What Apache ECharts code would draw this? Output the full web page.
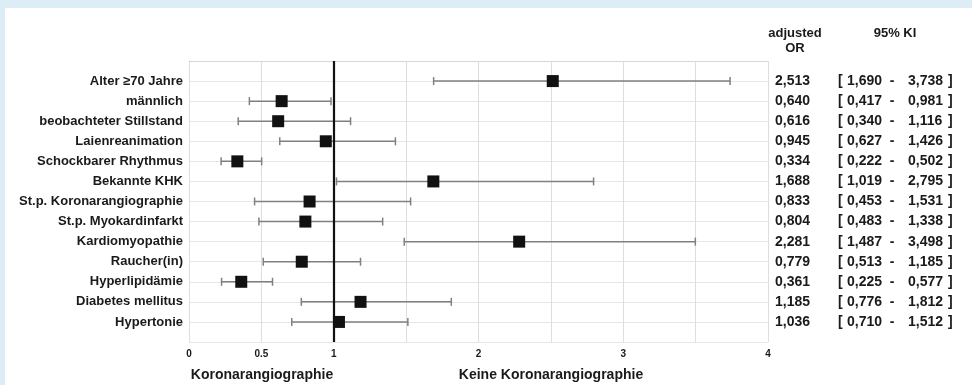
<!DOCTYPE html>
<html><head><meta charset="utf-8">
<script src="https://cdn.jsdelivr.net/npm/echarts@6/dist/echarts.min.js"></script>
<style>
html,body{margin:0;padding:0;background:#dcedf5;}
#panel{position:absolute;left:5px;top:8px;width:967px;height:377px;background:#fff;}
#c{position:absolute;left:0;top:0;width:972px;height:385px;}
</style></head>
<body><div id="panel"></div><div id="c"></div>
<script>
const categories = ['Alter \u226570 Jahre','männlich','beobachteter Stillstand','Laienreanimation','Schockbarer Rhythmus','Bekannte KHK','St.p. Koronarangiographie','St.p. Myokardinfarkt','Kardiomyopathie','Raucher(in)','Hyperlipidämie','Diabetes mellitus','Hypertonie'];
const orValues = [2.513,0.640,0.616,0.945,0.334,1.688,0.833,0.804,2.281,0.779,0.361,1.185,1.036];
const ciLower  = [1.690,0.417,0.340,0.627,0.222,1.019,0.453,0.483,1.487,0.513,0.225,0.776,0.710];
const ciUpper  = [3.738,0.981,1.116,1.426,0.502,2.795,1.531,1.338,3.498,1.185,0.577,1.812,1.512];
const xTickLabels = ['0','0.5','1','2','3','4'];
const headerOR = ['adjusted','OR'];
const headerKI = '95% KI';
const leftTitle = 'Koronarangiographie';
const rightTitle = 'Keine Koronarangiographie';

const fmt = v => v.toFixed(3).replace('.', ',');
const FONT = '"Liberation Sans", Arial, Helvetica, sans-serif';
const TXT = '#1a1a1a';

const rows = categories.map((c, i) => i + 1);
const errData = rows.map((r, i) => [ciLower[i], ciUpper[i], r]);
const ptData = rows.map((r, i) => [orValues[i], r]);
const textData = rows.map((r, i) => [4, r, i]);

const chart = echarts.init(document.getElementById('c'), null, {renderer: 'canvas'});
chart.setOption({
  animation: false,
  backgroundColor: 'transparent',
  grid: {left: 189, right: 204, top: 61, bottom: 43},
  xAxis: {
    type: 'value', min: 0, max: 4, interval: 0.5,
    axisLine: {show: true, lineStyle: {color: '#d6d6d6', width: 1}},
    axisTick: {show: false},
    splitLine: {show: true, lineStyle: {color: '#dedede', width: 1}},
    axisLabel: {
      margin: 7, fontSize: 10, fontWeight: 'bold', color: TXT, fontFamily: FONT,
      formatter: v => xTickLabels.indexOf(String(v)) >= 0 ? String(v) : ''
    }
  },
  yAxis: {
    type: 'value', min: 0, max: 14, interval: 1, inverse: true,
    axisLine: {show: true, lineStyle: {color: '#dedede', width: 1}},
    axisTick: {show: false},
    splitLine: {show: true, lineStyle: {color: '#e6e6e6', width: 1}},
    axisLabel: {
      margin: 6, fontSize: 13, fontWeight: 'bold', color: TXT, fontFamily: FONT,
      formatter: v => categories[v - 1] || ''
    }
  },
  graphic: [
    {type: 'text', x: 795, y: 33, style: {text: headerOR[0], font: 'bold 13px ' + FONT, fill: TXT, textAlign: 'center', textVerticalAlign: 'middle'}},
    {type: 'text', x: 795, y: 48, style: {text: headerOR[1], font: 'bold 13px ' + FONT, fill: TXT, textAlign: 'center', textVerticalAlign: 'middle'}},
    {type: 'text', x: 895, y: 33, style: {text: headerKI, font: 'bold 13px ' + FONT, fill: TXT, textAlign: 'center', textVerticalAlign: 'middle'}},
    {type: 'text', x: 262, y: 375, style: {text: leftTitle, font: 'bold 14px ' + FONT, fill: TXT, textAlign: 'center', textVerticalAlign: 'middle'}},
    {type: 'text', x: 551, y: 375, style: {text: rightTitle, font: 'bold 14px ' + FONT, fill: TXT, textAlign: 'center', textVerticalAlign: 'middle'}}
  ],
  series: [
    {
      type: 'custom', name: 'ci', data: errData, clip: false, z: 3,
      encode: {x: [0, 1], y: 2},
      renderItem: function (params, api) {
        const y = api.value(2);
        const p1 = api.coord([api.value(0), y]);
        const p2 = api.coord([api.value(1), y]);
        const h = 4;
        const st = {stroke: '#808080', lineWidth: 1.5};
        return {type: 'group', children: [
          {type: 'line', shape: {x1: p1[0], y1: p1[1], x2: p2[0], y2: p2[1]}, style: st},
          {type: 'line', shape: {x1: p1[0], y1: p1[1] - h, x2: p1[0], y2: p1[1] + h}, style: st},
          {type: 'line', shape: {x1: p2[0], y1: p2[1] - h, x2: p2[0], y2: p2[1] + h}, style: st}
        ]};
      },
      markLine: {
        silent: true, symbol: ['none', 'none'], label: {show: false},
        lineStyle: {color: '#111', width: 2.2, type: 'solid'},
        data: [{xAxis: 1}]
      }
    },
    {
      type: 'scatter', name: 'or', data: ptData, symbol: 'rect', symbolSize: 12, z: 5,
      itemStyle: {color: '#111111', opacity: 1}
    },
    {
      type: 'custom', name: 'table', data: textData, clip: false, z: 4, silent: true,
      encode: {x: 0, y: 1},
      renderItem: function (params, api) {
        const i = api.value(2);
        const p = api.coord([api.value(0), api.value(1)]);
        const x0 = p[0], y = p[1];
        const f = 'bold 14px ' + FONT;
        const t = (text, dx, align) => ({type: 'text', style: {text: text, x: x0 + dx, y: y, font: f, fill: TXT, textAlign: align, textVerticalAlign: 'middle'}});
        return {type: 'group', children: [
          t(fmt(orValues[i]), 7, 'left'),
          t('[', 70, 'left'),
          t(fmt(ciLower[i]), 79, 'left'),
          t('-', 124, 'center'),
          t(fmt(ciUpper[i]), 140, 'left'),
          t(']', 180, 'left')
        ]};
      }
    }
  ]
});
</script>
</body></html>
